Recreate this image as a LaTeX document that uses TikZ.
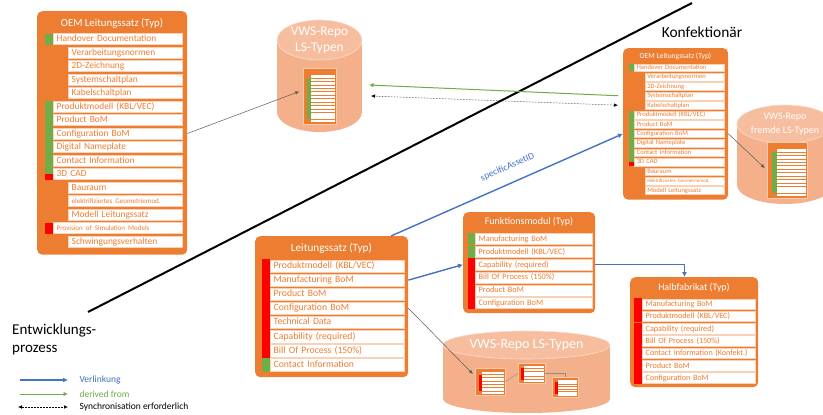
\documentclass[tikz,border=0pt]{standalone}
\usepackage{fontspec}
\setmainfont{Carlito}
\usetikzlibrary{arrows.meta, shapes.geometric}
\definecolor{accOrange}{HTML}{ED7D31}
\definecolor{accGreen}{HTML}{70AD47}
\definecolor{accBlue}{HTML}{4472C4}
\definecolor{accRed}{HTML}{FF0000}
\definecolor{repoBody}{HTML}{F4B08B}
\definecolor{repoLid}{HTML}{F6BD9E}
\newcommand{\fsz}[1]{\fontsize{#1}{\fpeval{1.2*#1}}\selectfont}
\tikzset{
	typbox/.style = {fill=accOrange, rounded corners=5pt, inner sep=0pt},
	typtitle/.style = {text=white, inner sep=0pt},
	typrow/.style = {fill=white, draw=accOrange!35, line width=0.4pt, anchor=west, text=accOrange,
		inner sep=0pt, inner xsep=3.5pt, align=left, text height=0.72em, text depth=0.22em},
	thumbbox/.style = {fill=accOrange, draw=accOrange!40!white, line width=0.3pt, inner sep=0pt},
	repolid/.style = {ellipse, fill=repoLid, draw=white!50!repoLid, line width=0.6pt, inner sep=0pt, text=white, align=center},
	thumblink/.style = {draw=black!45, line width=0.4pt},
	verlinkung/.style = {draw=accBlue, line width=1.4pt, -{Latex[length=5pt, width=5pt]}},
	derived/.style = {draw=accGreen, line width=1pt, -{Latex[length=4.5pt, width=4.5pt]}},
	sync/.style = {draw=black, line width=0.5pt, densely dotted, {Latex[length=4pt, width=3.5pt]}-{Latex[length=4pt, width=3.5pt]}},
	pointer/.style = {draw=black!65, line width=0.5pt, -{Latex[length=4pt, width=3.5pt]}},
	divider/.style = {draw=black, line width=2pt},
}
% rows of the OEM type: indent/text
\newcommand{\oemrows}{0/Handover Documentation, 1/Verarbeitungsnormen, 1/2D-Zeichnung, 1/Systemschaltplan,
	1/Kabelschaltplan, 0/{Produktmodell (KBL/VEC)}, 0/Product BoM, 0/Configuration BoM, 0/Digital Nameplate,
	0/Contact Information, 0/3D CAD, 1/Bauraum, 1/{\fsz{7}elektrifiziertes Geometriemod.}, 1/Modell Leitungssatz,
	0/{\fsz{7}Provision of Simulation Models}, 1/Schwingungsverhalten}
% OEM box: name, number of rows
\newcommand{\oembox}[2]{%
	\pgfmathsetmacro{\oemh}{28+13.5*(#2-1)+13}
	\node[typbox, minimum width=150, minimum height=\oemh, anchor=north west] (#1) at (0,0) {};
	\node[typtitle, font=\fsz{10.8}] (#1-t) at (75,12) {OEM Leitungssatz (Typ)};
	\fill[accGreen] (8,28-5.5) rectangle (16,28+5.5);
	\fill[accGreen] (8,28+13.5*5-6) rectangle (16,28+13.5*10);
	\fill[accRed] (8,28+13.5*10) rectangle (16,28+13.5*10+5.5);
	\ifnum#2>14 \fill[accRed] (8,28+13.5*14-5.5) rectangle (16,28+13.5*14+5.5); \fi
	\foreach \ind/\txt [count=\i from 0] in \oemrows {
		\ifnum\i<#2
			\pgfmathsetmacro{\rx}{\ind==1 ? 31 : 16}
			\pgfmathsetmacro{\rw}{145-\rx-7}
			\node[typrow, minimum height=11, text width=\rw pt] (#1-r\i) at (\rx,28+13.5*\i) {\txt};
		\fi
	}
}
% rows of a type box: name, first y, step, height, marker x, row x, row end, list marker/text
\newcommand{\typrows}[8]{%
	\foreach \mk/\txt [count=\i from 0] in {#8} {
		\pgfmathsetmacro{\ry}{#2+#3*\i}
		\pgfmathsetmacro{\rw}{#7-#6-7}
		\fill[\mk] (#5,\ry-#4/2-0.8) rectangle (#6,\ry+#4/2+0.8);
		\node[typrow, minimum height=#4, text width=\rw pt] (#1-r\i) at (#6,\ry) {\txt};
	}
}
% repository: name, x, lid y, x radius, y radius, bottom y, text
\newcommand{\repo}[7]{%
	\fill[repoBody] (#2-#4,#3) rectangle (#2+#4,#6);
	\fill[repoBody] (#2,#6) ellipse [x radius=#4, y radius=#5];
	\node[repolid, minimum width=2*#4, minimum height=2*#5] (#1) at (#2,#3) {#7};
}
% small type inside a repository: name, x, y, width, height, rows, marker colour
\newcommand{\lsthumb}[7]{%
	\node[thumbbox, minimum width=#4, minimum height=#5, anchor=north west] (#1) at (#2,#3) {};
	\pgfmathsetmacro{\tstep}{0.86*#5/#6}
	\foreach \k in {1,...,#6} {
		\pgfmathsetmacro{\ty}{#3+0.12*#5+\tstep*(\k-0.5)}
		\fill[white] (#2+0.24*#4,\ty-0.36*\tstep) rectangle (#2+#4-1.2,\ty+0.36*\tstep);
	}
	\fill[#7] (#2+0.12*#4,#3+0.12*#5+\tstep) rectangle (#2+0.24*#4,#3+#5-0.02*#5-\tstep);
}

\begin{document}
\begin{tikzpicture}[x=1pt, y=-1pt]
	\clip (0,0) rectangle (823,415);
	\fill[white] (0,0) rectangle (823,415);
	% ====== Divider ========
	\coordinate (div-s) at (88,312);
	\coordinate (div-e) at (692,3);
	\draw[divider] (div-s) -- (div-e);
	\node[font=\fsz{15.4}] (konf) at (702,32) {Konfektionär};
	\node[anchor=north west, align=left, inner sep=0pt, font=\fontsize{15}{18}\selectfont] (entw) at (12,324) {Entwicklungs-\\prozess};

	% ====== OEM types ========
	\begin{scope}[shift={(37,11)}, font=\fsz{9.4}]
		\oembox{oemL}{16}
	\end{scope}
	\begin{scope}[shift={(623,48)}, scale=0.7, transform shape, font=\fsz{9.4}]
		\oembox{oemR}{14}
	\end{scope}

	% ====== Leitungssatz ========
	\node[typbox, minimum width=153, minimum height=141, anchor=north west] (ls) at (255,236) {};
	\node[typtitle, font=\fsz{11.2}] (ls-t) at (331.5,248) {Leitungssatz (Typ)};
	\begin{scope}[font=\fsz{9.7}]
		\typrows{ls}{266}{14.1}{12.5}{262}{270}{404}{accRed/{Produktmodell (KBL/VEC)}, accRed/Manufacturing BoM,
			accRed/Product BoM, accRed/Configuration BoM, accRed/Technical Data, accRed/Capability (required),
			accRed/Bill Of Process (150\%), accGreen/Contact Information}
	\end{scope}

	% ====== Funktionsmodul ========
	\node[typbox, minimum width=132, minimum height=101, anchor=north west] (fm) at (463,212) {};
	\node[typtitle, font=\fsz{10}] (fm-t) at (529,222) {Funktionsmodul (Typ)};
	\begin{scope}[font=\fsz{8.3}]
		\typrows{fm}{239}{12.8}{11}{468}{475}{592}{accGreen/Manufacturing BoM, accGreen/{Produktmodell (KBL/VEC)},
			accRed/Capability (required), accRed/Bill Of Process (150\%), accRed/Product BoM, accRed/Configuration BoM}
	\end{scope}

	% ====== Halbfabrikat ========
	\node[typbox, minimum width=128, minimum height=110, anchor=north west] (hf) at (630,277) {};
	\node[typtitle, font=\fsz{9.9}] (hf-t) at (694,288) {Halbfabrikat (Typ)};
	\begin{scope}[font=\fsz{8.1}]
		\typrows{hf}{304}{12.3}{10.5}{634}{642}{755}{accRed/Manufacturing BoM, accRed/{Produktmodell (KBL/VEC)},
			accRed/Capability (required), accRed/Bill Of Process (150\%), accRed/Contact Information (Konfekt.),
			accRed/Product BoM, accRed/Configuration BoM}
	\end{scope}

	% ====== Repositories ========
	\begin{scope}[font=\fontsize{13.4}{16}\selectfont]
		\repo{repoA}{319.5}{40}{42.5}{20}{112}{VWS-Repo\\LS-Typen}
	\end{scope}
	\begin{scope}[font=\fontsize{10}{14.5}\selectfont]
		\repo{repoB}{785}{124}{48}{19}{185}{VWS-Repo\\fremde LS-Typen}
	\end{scope}
	\begin{scope}[font=\fsz{14}]
		\repo{repoC}{526.5}{345}{83.5}{14}{399}{VWS-Repo LS-Typen}
	\end{scope}
	\lsthumb{thA}{303}{68}{33}{56}{14}{accGreen}
	\lsthumb{thB}{767}{142}{40}{56}{14}{accGreen}
	\lsthumb{thC1}{475}{368}{30}{27}{7}{accRed}
	\lsthumb{thC2}{518}{363}{27}{20}{6}{accRed}
	\lsthumb{thC3}{552}{377}{26}{20}{7}{accRed}
	\draw[thumblink] (thC1.east) -- (thC2.west);
	\draw[thumblink] (thC2.east) -| (thC3.north);

	% ====== Links ========
	\coordinate (repoA-g) at (369,85);
	\coordinate (repoA-s) at (371,96);
	\draw[pointer, shorten >=4pt] (oemL.east |- oemL-r7) -- (thA.160);
	\draw[derived, shorten <=5pt] (oemR.west |- oemR-r3) -- (repoA-g);
	\draw[sync, shorten >=5pt] (repoA-s) -- (oemR.west |- oemR-r4);
	\draw[pointer, shorten >=3pt] (oemR.east |- oemR-r7) -- (thB.west);
	\draw[verlinkung] (ls.50) -- (oemR.west |- oemR-r7)
		node[sloped, above=8pt, pos=0.53, text=accBlue, font=\fsz{9.5}] (said) {specificAssetID};
	\draw[verlinkung] (ls.east |- ls-r1) -- (fm.west |- fm-r2);
	\draw[verlinkung] (fm.east |- fm-r2) -| (hf.100);
	\draw[pointer, shorten >=3pt] (ls.east |- ls-r3) -- (thC1.160);

	% ====== Legend ========
	\node[anchor=west, text=accBlue, font=\fsz{9.5}] (leg-b) at (76,380) {Verlinkung};
	\node[anchor=west, text=accGreen, font=\fsz{9.5}] (leg-g) at (76,394) {derived from};
	\node[anchor=west, font=\fsz{9.5}] (leg-s) at (76,407) {Synchronisation erforderlich};
	\coordinate (leg-b0) at (20,380);
	\coordinate (leg-g0) at (20,394);
	\coordinate (leg-s0) at (18,407);
	\draw[verlinkung] (leg-b0) -- ([xshift=-8pt]leg-b.west);
	\draw[derived] (leg-g0) -- ([xshift=-8pt]leg-g.west);
	\draw[sync] (leg-s0) -- ([xshift=-8pt]leg-s.west);
\end{tikzpicture}
\end{document}
